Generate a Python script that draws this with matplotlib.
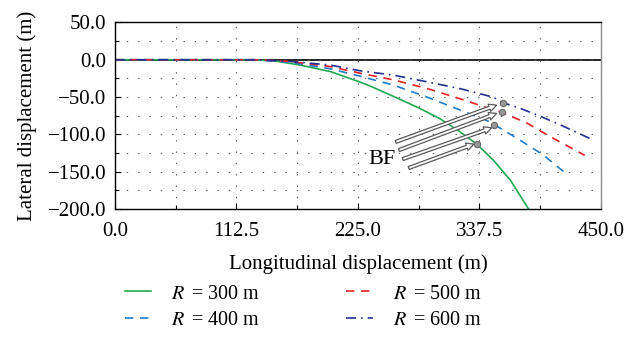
import numpy as np
import matplotlib
matplotlib.use("Agg")
import matplotlib.pyplot as plt
from matplotlib.ticker import MultipleLocator, FuncFormatter

plt.rcParams['font.family'] = 'Liberation Serif'
plt.rcParams['mathtext.fontset'] = 'stix'

# ---------------- data ----------------
x300 = [0, 112.5, 130, 150, 171, 200, 227, 236, 264, 282, 301, 319, 335, 350, 366, 383]
y300 = [0, 0, 0, -2, -7, -16, -30, -35, -53, -65, -79, -96, -113, -134, -161, -200]

x400 = [0, 112.5, 130, 160, 199, 227, 258, 289, 319, 347, 352, 375, 397, 418]
y400 = [0, 0, 0, -3, -12, -22, -34, -50, -67, -83, -87.5, -107.6, -128, -153]

x500 = [0, 112.5, 130, 160, 199, 227, 258, 289, 319, 344, 358, 381, 403, 435]
y500 = [0, 0, 0, -2, -9, -18, -27, -38.5, -52, -64, -70.5, -84.4, -103, -128]

x600 = [0, 112.5, 130, 160, 199, 227, 258, 289, 319, 350, 359.5, 375, 393.5, 412, 443]
y600 = [0, 0, 0, -2, -7, -14.8, -20.6, -29.6, -38.5, -50, -57.6, -65, -75.5, -87, -107.6]

# BF points on each curve (300, 400, 500, 600)
bf_x = [335, 351, 358, 359.5]
bf_y = [-113, -87.5, -70.5, -57.6]

labels = [r'$R\,$ = 300 m', r'$R\,$ = 400 m', r'$R\,$ = 500 m', r'$R\,$ = 600 m']


def fmt(v, pos):
    return ('%.1f' % v).replace('-', '\u2212')


fig = plt.figure(figsize=(6.38, 3.45), dpi=100)
ax = fig.add_axes([0.180, 0.394, 0.762, 0.541])

l1, = ax.plot(x300, y300, color='#22a852', lw=1.2, ls='-')
l2, = ax.plot(x400, y400, color='#1f7ac9', lw=1.2, ls=(0, (5, 4)))
l3, = ax.plot(x500, y500, color='#e42228', lw=1.2, ls=(0, (5, 4)))
l4, = ax.plot(x600, y600, color='#23308f', lw=1.2, ls=(0, (6, 3, 1, 3)))

ax.axhline(0, color='black', lw=1.2, zorder=1)

# hollow arrows pointing at the BF points
starts = [(260, -110), (263, -121), (266.5, -133), (272, -145)]
tips = [(353.4, -60.8), (353.4, -71.9), (348.8, -91.2), (332.4, -113)]
for s, t in zip(starts, tips):
    ax.annotate('', xy=t, xytext=s,
                arrowprops=dict(arrowstyle='simple,head_length=0.55,head_width=0.55,tail_width=0.22',
                                fc='white', ec='0.35', lw=0.9, shrinkA=0, shrinkB=0))
ax.plot(bf_x, bf_y, 'o', ms=4.5, mfc='0.6', mec='0.4', mew=0.8, zorder=5)
ax.text(247, -133, 'BF', fontsize=16, ha='center', va='center')

ax.set_xlim(0, 450)
ax.set_ylim(-200, 50)
ax.xaxis.set_major_locator(MultipleLocator(112.5))
ax.xaxis.set_minor_locator(MultipleLocator(56.25))
ax.yaxis.set_major_locator(MultipleLocator(50))
ax.yaxis.set_minor_locator(MultipleLocator(25))
ax.xaxis.set_major_formatter(FuncFormatter(fmt))
ax.yaxis.set_major_formatter(FuncFormatter(fmt))
ax.tick_params(which='both', direction='in', labelsize=15, width=0.8)
ax.tick_params(which='major', length=4)
ax.tick_params(which='minor', length=3)
ax.tick_params(axis='x', pad=9)
ax.tick_params(axis='y', pad=6)
ax.grid(which='both', color='0.35', lw=0.8, ls=(0, (1.2, 9)))

for sp in ax.spines.values():
    sp.set_linewidth(1.0)
ax.spines['right'].set_color('0.55')

ax.set_xlabel('Longitudinal displacement (m)', fontsize=15, labelpad=10)
ax.set_ylabel('Lateral displacement (m)', fontsize=15, labelpad=8)

fig.legend([l1, l2, l3, l4], labels, loc='center', bbox_to_anchor=(0.475, 0.11),
           ncol=2, frameon=False, fontsize=14.5, handlelength=1.3,
           columnspacing=4.3, labelspacing=0.35, handletextpad=1.0)

fig.savefig('out.png', dpi=100)
